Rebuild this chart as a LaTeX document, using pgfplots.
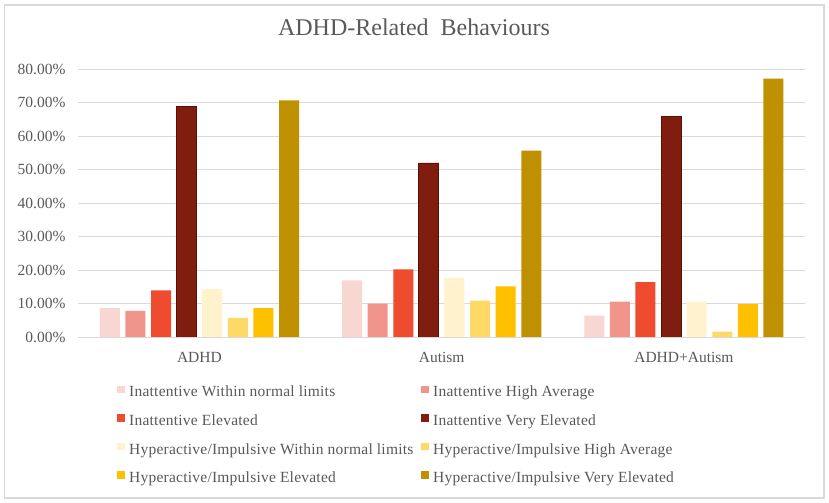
\documentclass[border=0pt]{standalone}
\usepackage{pgfplots}
\usepackage{pgfplotstable}
\pgfplotsset{compat=1.18}
\usepackage{fontspec}
\setmainfont{Liberation Serif}
\newfontfamily\legfont[LetterSpace=1.5]{Liberation Serif}
\definecolor{cA}{HTML}{F8D7D2}
\definecolor{cB}{HTML}{F1958A}
\definecolor{cC}{HTML}{EE4B2F}
\definecolor{cD}{HTML}{801D0E}
\definecolor{cDd}{HTML}{5A1005}
\definecolor{cE}{HTML}{FFF2CC}
\definecolor{cF}{HTML}{FFD966}
\definecolor{cG}{HTML}{FFC000}
\definecolor{cH}{HTML}{BF9000}
\definecolor{gridc}{HTML}{D9D9D9}
\definecolor{txt}{HTML}{595959}
\pgfplotstableread{
x  a    b    c    d    e    f    g    h
0  8.6  7.8  13.9 68.9 14.3 5.7  8.6  70.7
1  16.9 10.0 20.2 52.0 17.7 10.9 15.1 55.7
2  6.4  10.6 16.4 65.8 10.6 1.6  9.8  77.2
}\datatable
\begin{document}
\begin{tikzpicture}
\path[use as bounding box] (0,0) rectangle (829bp,503bp);
\fill[white] (0,0) rectangle (829bp,503bp);
\draw[gridc, line width=1.5bp] (4.5bp,5bp) rectangle (824bp,498bp);
\begin{axis}[
  at={(78.3bp,166bp)}, anchor=south west,
  scale only axis, width=726.7bp, height=267.7bp,
  ybar=5.6bp, bar width=20bp,
  xmin=-0.5, xmax=2.5, ymin=0, ymax=80,
  xtick={0,1,2}, xticklabels={ADHD,Autism,ADHD+Autism},
  ytick={0,10,...,80},
  yticklabels={0.00\%,10.00\%,20.00\%,30.00\%,40.00\%,50.00\%,60.00\%,70.00\%,80.00\%},
  ymajorgrids, major grid style={gridc, line width=1bp},
  axis line style={draw=none}, major tick length=0pt,
  tick label style={font=\fontsize{15.5bp}{18bp}\selectfont, text=txt},
  yticklabel style={anchor=east, inner sep=0pt, xshift=-12.6bp},
  xticklabel style={anchor=base, inner sep=0pt, yshift=-25bp},
  title={ADHD-Related\ \ Behaviours},
  title style={at={(0.462,1.1031)}, anchor=base, font=\fontsize{24bp}{28bp}\selectfont, text=txt},
  legend columns=2,
  legend style={at={(0.0533,-0.1812)}, anchor=north west, draw=none, fill=none,
    inner sep=0pt, row sep=13.8bp,
    nodes={inner sep=0pt, text height=11bp, text depth=3.5bp,
      font=\legfont\fontsize{15.5bp}{18bp}\selectfont, text=txt},
    /tikz/every odd column/.append style={column sep=4.5bp}},
  legend image code/.code={\path[#1,draw=none] (0bp,0bp) rectangle (7.5bp,7.5bp);},
  legend cell align=left,
]
\addplot[fill=cA, draw=none] table[x=x,y=a]{\datatable};
\addplot[fill=cB, draw=none] table[x=x,y=b]{\datatable};
\addplot[fill=cC, draw=none] table[x=x,y=c]{\datatable};
\addplot[fill=cD, draw=cDd, line width=0.8bp] table[x=x,y=d]{\datatable};
\addplot[fill=cE, draw=none] table[x=x,y=e]{\datatable};
\addplot[fill=cF, draw=none] table[x=x,y=f]{\datatable};
\addplot[fill=cG, draw=none] table[x=x,y=g]{\datatable};
\addplot[fill=cH, draw=none] table[x=x,y=h]{\datatable};
\legend{\makebox[292bp][l]{Inattentive Within normal limits},
  Inattentive High Average,
  \makebox[292bp][l]{Inattentive Elevated},
  Inattentive Very Elevated,
  \makebox[292bp][l]{Hyperactive/Impulsive Within normal limits},
  Hyperactive/Impulsive High Average,
  \makebox[292bp][l]{Hyperactive/Impulsive Elevated},
  Hyperactive/Impulsive Very Elevated}
\end{axis}
\end{tikzpicture}
\end{document}
